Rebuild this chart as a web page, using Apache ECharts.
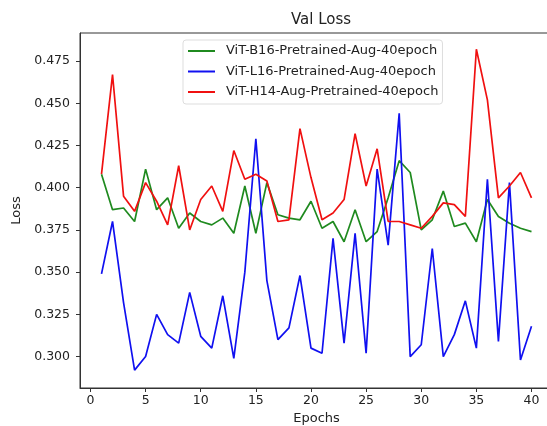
<!DOCTYPE html>
<html>
<head>
<meta charset="utf-8">
<script src="https://cdn.jsdelivr.net/npm/echarts@6/dist/echarts.min.js"></script>
<style>
    html, body { margin: 0; padding: 0; background: #fff; }
    #chart { width: 547px; height: 426px; }
</style>
</head>
<body>
<div id="chart"></div>
<script>
const epochs = [1, 2, 3, 4, 5, 6, 7, 8, 9, 10, 11, 12, 13, 14, 15, 16, 17, 18, 19, 20,
    21, 22, 23, 24, 25, 26, 27, 28, 29, 30, 31, 32, 33, 34, 35, 36, 37, 38, 39, 40];

const b16Loss = [0.408, 0.387, 0.388, 0.380, 0.411, 0.387, 0.394, 0.376, 0.385, 0.380,
    0.378, 0.382, 0.373, 0.401, 0.373, 0.403, 0.384, 0.382, 0.381, 0.392,
    0.376, 0.380, 0.368, 0.387, 0.368, 0.374, 0.394, 0.416, 0.409, 0.375,
    0.381, 0.398, 0.377, 0.379, 0.368, 0.393, 0.383, 0.379, 0.376, 0.374];

const l16Loss = [0.349, 0.380, 0.332, 0.292, 0.300, 0.325, 0.313, 0.308, 0.338, 0.312,
    0.305, 0.336, 0.299, 0.350, 0.429, 0.345, 0.310, 0.317, 0.348, 0.305,
    0.302, 0.370, 0.308, 0.373, 0.302, 0.411, 0.366, 0.444, 0.300, 0.307,
    0.364, 0.300, 0.313, 0.333, 0.305, 0.405, 0.309, 0.403, 0.298, 0.318];

const h14Loss = [0.408, 0.467, 0.395, 0.386, 0.403, 0.392, 0.378, 0.413, 0.375, 0.393,
    0.401, 0.386, 0.422, 0.405, 0.408, 0.404, 0.380, 0.381, 0.435, 0.406,
    0.381, 0.385, 0.393, 0.432, 0.401, 0.423, 0.380, 0.380, 0.378, 0.376,
    0.383, 0.391, 0.390, 0.383, 0.482, 0.452, 0.394, 0.401, 0.409, 0.394];

const xTicks = [0, 5, 10, 15, 20, 25, 30, 35, 40];
const yTicks = [0.300, 0.325, 0.350, 0.375, 0.400, 0.425, 0.450, 0.475];

const seriesNames = [
    'ViT-B16-Pretrained-Aug-40epoch',
    'ViT-L16-Pretrained-Aug-40epoch',
    'ViT-H14-Aug-Pretrained-40epoch'
];

function pairs(ys) {
    return epochs.map((e, i) => [e, ys[i]]);
}

let myChart = echarts.init(document.getElementById('chart'), null, {renderer: 'canvas'});
const font = 'DejaVu Sans';

let option = {
    animation: false,
    backgroundColor: '#fff',
    title: {
        text: 'Val Loss',
        left: 316,
        top: 8,
        textAlign: 'center',
        textStyle: {fontFamily: font, fontSize: 15, fontWeight: 'normal', color: '#222'}
    },
    grid: {
        left: 80,
        top: 33,
        width: 473,
        height: 355,
        outerBoundsMode: 'none',
        containLabel: false,
        show: true,
        borderColor: '#333',
        borderWidth: 1
    },
    legend: {
        orient: 'vertical',
        left: 183,
        top: 40,
        padding: [4, 4, 5, 5],
        itemGap: 6.5,
        itemWidth: 27,
        itemHeight: 2,
        icon: 'rect',
        backgroundColor: 'rgba(255,255,255,0.85)',
        borderColor: '#ddd',
        borderWidth: 1,
        borderRadius: 3,
        textStyle: {fontFamily: font, fontSize: 13, lineHeight: 14, color: '#222', padding: [0, 0, 0, 6]},
        data: seriesNames
    },
    xAxis: {
        type: 'value',
        min: -0.95,
        max: 41.95,
        name: 'Epochs',
        nameLocation: 'middle',
        nameGap: 22,
        nameTextStyle: {fontFamily: font, fontSize: 13, color: '#222'},
        axisLine: {show: true, onZero: false, lineStyle: {color: '#333'}},
        axisTick: {show: true, inside: false, length: 4, customValues: xTicks, lineStyle: {color: '#333'}},
        axisLabel: {customValues: xTicks, margin: 6, fontFamily: font, fontSize: 12.5, color: '#222'},
        splitLine: {show: false}
    },
    yAxis: {
        type: 'value',
        min: 0.2814,
        max: 0.4916,
        name: 'Loss',
        nameLocation: 'middle',
        nameGap: 55,
        nameTextStyle: {fontFamily: font, fontSize: 13, color: '#222'},
        axisLine: {show: true, onZero: false, lineStyle: {color: '#333'}},
        axisTick: {show: true, inside: false, length: 4, customValues: yTicks, lineStyle: {color: '#333'}},
        axisLabel: {
            customValues: yTicks,
            margin: 10,
            fontFamily: font,
            fontSize: 12.5,
            color: '#222',
            formatter: v => v.toFixed(3)
        },
        splitLine: {show: false}
    },
    series: [
        {
            name: seriesNames[0],
            type: 'line',
            data: pairs(b16Loss),
            symbol: 'none',
            color: '#1f8a1f',
            lineStyle: {width: 1.7}
        },
        {
            name: seriesNames[1],
            type: 'line',
            data: pairs(l16Loss),
            symbol: 'none',
            color: '#1010f0',
            lineStyle: {width: 1.7}
        },
        {
            name: seriesNames[2],
            type: 'line',
            data: pairs(h14Loss),
            symbol: 'none',
            color: '#f01010',
            lineStyle: {width: 1.7}
        }
    ]
};

if (option && typeof option === "object") {
    myChart.setOption(option, true);
}
</script>
</body>
</html>
